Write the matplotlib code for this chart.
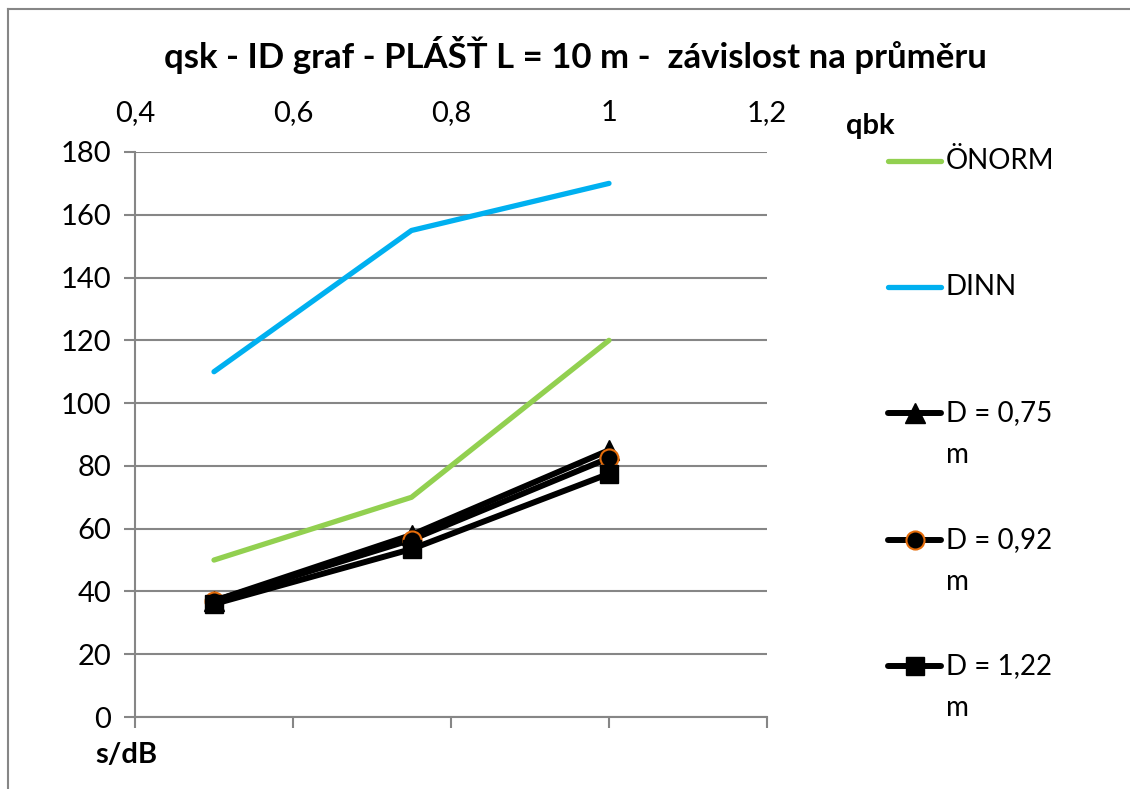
# coding: utf-8
# qsk - ID graf, plast L = 10 m

import matplotlib.pyplot as plt
from matplotlib.lines import Line2D
from matplotlib.ticker import FuncFormatter

# Data
s_db = [0.5, 0.75, 1.0]
onorm = [50, 70, 120]
dinn = [110, 155, 170]
d_075 = [37, 58, 85]
d_092 = [37, 56.5, 82.5]
d_122 = [36, 53.5, 77.5]

x_ticks = [0.4, 0.6, 0.8, 1.0, 1.2]
y_ticks = list(range(0, 181, 20))

plt.rcParams['font.family'] = ['Lato', 'DejaVu Sans']

W, H = 1130, 789
fig = plt.figure(figsize=(W / 100, H / 100), dpi=100)

# plot area in pixels: x 135..767, y 152..717
ax = fig.add_axes([135 / W, 1 - 717 / H, (767 - 135) / W, (717 - 152) / H])

grey = '#868686'
green = '#92D050'
blue = '#00B0F0'
orange = '#E46C0A'

ax.plot(s_db, onorm, color=green, lw=3.8, solid_capstyle='round', zorder=3)
ax.plot(s_db, dinn, color=blue, lw=3.8, solid_capstyle='round', zorder=3)
ax.plot(s_db, d_075, color='black', lw=4.3, marker='^', ms=14, zorder=4)
ax.plot(s_db, d_092, color='black', lw=4.3, marker='o', ms=13,
        mfc='black', mec=orange, mew=1.5, zorder=5)
ax.plot(s_db, d_122, color='black', lw=4.3, marker='s', ms=13, zorder=6)

ax.set_xlim(0.4, 1.2)
ax.set_ylim(0, 180)
ax.set_xticks(x_ticks)
ax.set_yticks(y_ticks)

comma = FuncFormatter(lambda v, p: ('%g' % v).replace('.', ','))
ax.xaxis.set_major_formatter(comma)

ax.grid(axis='y', color=grey, lw=1.5)
ax.set_axisbelow(True)
for side in ['top', 'right']:
    ax.spines[side].set_visible(False)
for side in ['left', 'bottom']:
    ax.spines[side].set_color(grey)
    ax.spines[side].set_linewidth(1.5)

ax.tick_params(axis='x', bottom=True, labelbottom=False, top=False, labeltop=True,
               length=8, width=1.5, color=grey, labelsize=21, pad=11)
ax.tick_params(axis='y', length=8, width=1.5, color=grey, labelsize=21, pad=9)

# title and axis titles
fig.text(575 / W, 1 - 55 / H, 'qsk - ID graf - PLÁŠŤ L = 10 m -  závislost na průměru',
         ha='center', va='center', fontsize=25, fontweight='bold')
fig.text(126 / W, 1 - 755 / H, 's/dB', ha='center', va='center',
         fontsize=21, fontweight='bold')
fig.text(870 / W, 1 - 126 / H, 'qbk', ha='center', va='center',
         fontsize=21, fontweight='bold')

# legend drawn by hand (Excel style, wrapped labels)
leg_y = [161, 287, 413, 540, 666]
leg_labels = ['ÖNORM', 'DINN', 'D = 0,75', 'D = 0,92', 'D = 1,22']
leg_wrap = [False, False, True, True, True]
leg_style = [
    dict(color=green, lw=3.8, solid_capstyle='round'),
    dict(color=blue, lw=3.8, solid_capstyle='round'),
    dict(color='black', lw=4.3, marker='^', ms=14, solid_capstyle='round'),
    dict(color='black', lw=4.3, marker='o', ms=13, mfc='black', mec=orange, mew=1.5,
         solid_capstyle='round'),
    dict(color='black', lw=4.3, marker='s', ms=13, solid_capstyle='round'),
]
for yy, lab, wrap, st in zip(leg_y, leg_labels, leg_wrap, leg_style):
    y = 1 - yy / H
    fig.add_artist(Line2D([888 / W, 941 / W], [y, y], markevery=[], **st))
    if 'marker' in st:
        fig.add_artist(Line2D([914.5 / W], [y], **st))
    fig.text(946 / W, y, lab, ha='left', va='center', fontsize=20)
    if wrap:
        fig.text(946 / W, 1 - (yy + 42) / H, 'm', ha='left', va='center', fontsize=20)

# chart frame (cropped at right and bottom)
fig.add_artist(Line2D([8 / W, 1], [1 - 9 / H, 1 - 9 / H], color=grey, lw=1.5))
fig.add_artist(Line2D([8 / W, 8 / W], [0, 1 - 9 / H], color=grey, lw=1.5))

fig.savefig('out.png', dpi=100)
